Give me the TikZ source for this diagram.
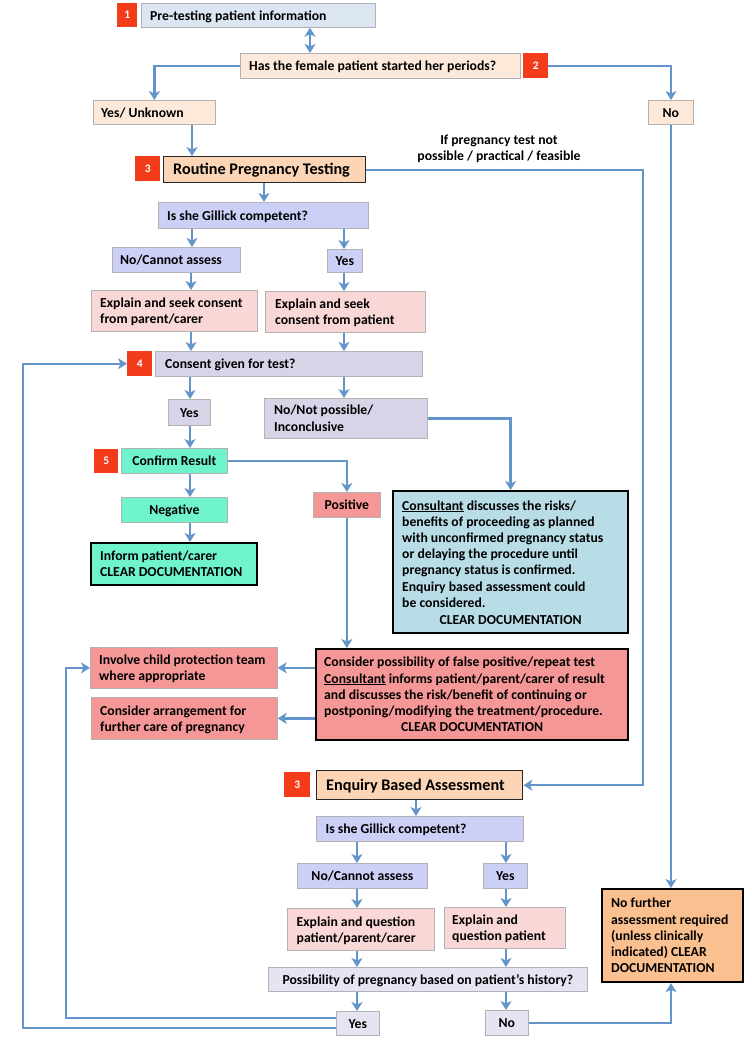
\documentclass[tikz,border=0pt]{standalone}
\usepackage{fontspec}
\setmainfont{Carlito}
\usetikzlibrary{arrows.meta}
\definecolor{cinfo}{HTML}{DCE6F2}
\definecolor{cpeach}{HTML}{FDE9D9}
\definecolor{cpeachB}{HTML}{FBD5B5}
\definecolor{clav}{HTML}{CCD0F6}
\definecolor{cpink}{HTML}{FAD7D7}
\definecolor{cgrey}{HTML}{D9D3E8}
\definecolor{caqua}{HTML}{6FF3CC}
\definecolor{csalmon}{HTML}{F59797}
\definecolor{cblue}{HTML}{B9DDE7}
\definecolor{corange}{HTML}{FAC090}
\definecolor{cred}{HTML}{F23C1A}
\definecolor{carrow}{HTML}{6495CA}
\definecolor{cposs}{HTML}{E6E4F3}
\tikzset{
  bx/.style={rectangle,draw=black!30,line width=0.7pt,inner sep=0pt},
  midb/.style={rectangle,draw=black!85,line width=1.4pt,inner sep=0pt},
  thk/.style={rectangle,draw=black,line width=2.2pt,inner sep=0pt},
  redsq/.style={rectangle,fill=cred,inner sep=0pt},
  txt/.style={inner sep=0pt,align=left,text=black,yshift=-1.5pt,font=\bfseries\fontsize{13.7}{16.2}\selectfont},
  bigtxt/.style={txt,font=\bfseries\fontsize{16.2}{18}\selectfont},
  numtxt/.style={inner sep=0pt,text=white,font=\bfseries\fontsize{11.5}{13}\selectfont},
  arr/.style={draw=carrow,line width=2.4pt,-{Stealth[length=9pt,width=11pt,inset=2.5pt]}},
  arrb/.style={draw=carrow,line width=2.4pt,{Stealth[length=9pt,width=11pt,inset=2.5pt]}-{Stealth[length=9pt,width=11pt,inset=2.5pt]}},
  ln/.style={draw=carrow,line width=2.4pt}
}
% name x1 y1 x2 y2 style pad text
\newcommand{\lbox}[8]{%
  \pgfmathsetmacro\mybw{#4-#2}\pgfmathsetmacro\mybh{#5-#3}%
  \node[#6,minimum width=\mybw pt,minimum height=\mybh pt,anchor=north west] (#1) at (#2,#3) {};%
  \node[txt,anchor=west] (#1t) at ([xshift=#7pt]#1.west) {\strut #8\strut};}
% name x1 y1 x2 y2 style text
\newcommand{\cbox}[7]{%
  \pgfmathsetmacro\mybw{#4-#2}\pgfmathsetmacro\mybh{#5-#3}%
  \node[#6,minimum width=\mybw pt,minimum height=\mybh pt,anchor=north west] (#1) at (#2,#3) {};%
  \node[txt,align=center] (#1t) at (#1.center) {\strut #7\strut};}
% name x1 y1 x2 y2 text
\newcommand{\nbox}[6]{%
  \pgfmathsetmacro\mybw{#4-#2}\pgfmathsetmacro\mybh{#5-#3}%
  \node[redsq,minimum width=\mybw pt,minimum height=\mybh pt,anchor=north west] (#1) at (#2,#3) {};%
  \node[numtxt] (#1t) at (#1.center) {#6};}
\begin{document}
\begin{tikzpicture}[x=1pt,y=-1pt]
\fill[white] (0,0) rectangle (752,1053);
\useasboundingbox (0,0) rectangle (752,1053);
% ---- boxes
\nbox{r1}{117}{3}{137}{27}{1}
\lbox{pre}{141}{3}{375}{27}{bx,fill=cinfo}{9}{Pre-testing patient information}
\lbox{per}{240}{53}{520}{78}{bx,fill=cpeach}{9}{Has the female patient started her periods?}
\nbox{r2}{523}{53}{548}{78}{2}
\lbox{yu}{93}{100}{215}{124}{bx,fill=cpeach}{8}{Yes/ Unknown}
\cbox{no1}{648}{100}{693}{124}{bx,fill=cpeach}{No}
\nbox{r3}{135}{156}{160}{181}{3}
\node[midb,fill=cpeachB,minimum width=202pt,minimum height=26pt,anchor=north west] (rpt) at (163,156) {};
\node[bigtxt,anchor=west] (rptt) at ([xshift=10pt]rpt.west) {\strut Routine Pregnancy Testing\strut};
\node[txt,align=center] (lbl) at (499,147) {If pregnancy test not\\possible / practical / feasible};
\lbox{g1}{158}{202}{368}{228}{bx,fill=clav}{9}{Is she Gillick competent?}
\lbox{nca1}{112}{247}{240}{272}{bx,fill=clav}{8}{No/Cannot assess}
\cbox{y1}{327}{249}{362}{272}{bx,fill=clav}{Yes}
\lbox{esp}{91}{290}{257}{331}{bx,fill=cpink}{9}{Explain and seek consent\\from parent/carer}
\lbox{esc}{265}{291}{425}{332}{bx,fill=cpink}{10}{Explain and seek\\consent from patient}
\nbox{r4}{127}{351}{152}{376}{4}
\lbox{cg}{155}{351}{422}{376}{bx,fill=cgrey}{10}{Consent given for test?}
\cbox{y2}{168}{399}{210}{425}{bx,fill=cgrey}{Yes}
\lbox{nnp}{264}{398}{427}{438}{bx,fill=cgrey}{10}{No/Not possible/\\Inconclusive}
\nbox{r5}{94}{449}{118}{473}{5}
\cbox{cr}{121}{448}{227}{473}{bx,fill=caqua}{Confirm Result}
\cbox{neg}{121}{497}{227}{522}{bx,fill=caqua}{Negative}
\lbox{inf}{90}{542}{256}{584}{thk,fill=caqua}{10}{Inform patient/carer\\CLEAR DOCUMENTATION}
\cbox{pos}{313}{492}{380}{517}{bx,fill=csalmon}{Positive}
% consultant box
\node[thk,fill=cblue,minimum width=235pt,minimum height=142pt,anchor=north west] (cons) at (392,490) {};
\node[txt,anchor=west] (const) at (402,554) {\strut\underline{Consultant} discusses the risks/\\benefits of proceeding as planned\\with unconfirmed pregnancy status\\or delaying the procedure until\\pregnancy status is confirmed.\\Enquiry based assessment could\\be considered.\strut};
\node[txt] (consc) at (cons.center |- 0,620) {\strut CLEAR DOCUMENTATION\strut};
% big red box
\node[thk,fill=csalmon,minimum width=312pt,minimum height=91pt,anchor=north west] (big) at (315,648) {};
\node[txt,anchor=west] (bigt) at (324,686.5) {\strut Consider possibility of false positive/repeat test\\\underline{Consultant} informs patient/parent/carer of result\\and discusses the risk/benefit of continuing or\\postponing/modifying the treatment/procedure.\strut};
\node[txt] (bigc) at (big.center |- 0,727) {\strut CLEAR DOCUMENTATION\strut};
\lbox{inv}{90}{647}{277}{688}{bx,fill=csalmon}{9}{Involve child protection team\\where appropriate}
\lbox{car}{91}{697}{277}{739}{bx,fill=csalmon}{9}{Consider arrangement for\\further care of pregnancy}
\nbox{r3b}{284}{772}{310}{797}{3}
\node[midb,fill=cpeachB,minimum width=206pt,minimum height=29pt,anchor=north west] (eba) at (316,770) {};
\node[bigtxt,anchor=west] (ebat) at ([xshift=10pt]eba.west) {\strut Enquiry Based Assessment\strut};
\lbox{g2}{316}{816}{523}{841}{bx,fill=clav}{9.5}{Is she Gillick competent?}
\cbox{nca2}{297}{863}{427}{888}{bx,fill=clav}{No/Cannot assess}
\cbox{y3}{483}{863}{527}{888}{bx,fill=clav}{Yes}
\lbox{eqp}{287}{908}{434}{950}{bx,fill=cpink}{9.5}{Explain and question\\patient/parent/carer}
\lbox{eq}{444}{907}{565}{948}{bx,fill=cpink}{8}{Explain and\\question patient}
\cbox{pos2}{268}{967}{587}{991}{bx,fill=cposs}{Possibility of pregnancy based on patient’s history?}
\cbox{y4}{336}{1011}{379}{1035}{bx,fill=cposs}{Yes}
\cbox{no2}{485}{1010}{528}{1035}{bx,fill=cposs}{No}
\lbox{nf}{601}{888}{742}{981}{thk,fill=corange}{10}{No further\\assessment required\\(unless clinically\\indicated) CLEAR\\DOCUMENTATION}
% ---- connectors
\draw[arrb] (310,0 |- pre.south) -- (310,0 |- per.north);
\draw[arr] (per.west) -| (yu.north);
\draw[arr] (r2.east) -| (671,0 |- no1.north);
\draw[arr] (192,0 |- yu.south) -- (192,0 |- rpt.north);
\draw[arr] (rpt.east) -- (643,0 |- rpt.east) -- (643,0 |- eba.east) -- (eba.east);
\draw[arr] (671,0 |- no1.south) -- (671,0 |- nf.north);
\draw[arr] (264,0 |- rpt.south) -- (264,0 |- g1.north);
\draw[arr] (192,0 |- g1.south) -- (192,0 |- nca1.north);
\draw[arr] (344,0 |- g1.south) -- (344,0 |- y1.north);
\draw[arr] (191,0 |- nca1.south) -- (191,0 |- esp.north);
\draw[arr] (344,0 |- y1.south) -- (344,0 |- esc.north);
\draw[arr] (191,0 |- esp.south) -- (191,0 |- cg.north);
\draw[arr] (344,0 |- esc.south) -- (344,0 |- cg.north);
\draw[arr] (190,0 |- cg.south) -- (190,0 |- y2.north);
\draw[arr] (344,0 |- cg.south) -- (344,0 |- nnp.north);
\draw[arr] (nnp.east) -| (cons.north);
\draw[arr] (190,0 |- y2.south) -- (190,0 |- cr.north);
\draw[arr] (cr.east) -| (pos.north);
\draw[arr] (190,0 |- cr.south) -- (190,0 |- neg.north);
\draw[arr] (190,0 |- neg.south) -- (190,0 |- inf.north);
\draw[arr] (pos.south) -- (pos.south |- big.north);
\draw[arr] (big.west |- inv.east) -- (inv.east);
\draw[arr] (big.west |- car.east) -- (car.east);
\draw[arr] (416,0 |- eba.south) -- (416,0 |- g2.north);
\draw[arr] (357,0 |- g2.south) -- (357,0 |- nca2.north);
\draw[arr] (506,0 |- g2.south) -- (506,0 |- y3.north);
\draw[arr] (357,0 |- nca2.south) -- (357,0 |- eqp.north);
\draw[arr] (506,0 |- y3.south) -- (506,0 |- eq.north);
\draw[arr] (357,0 |- eqp.south) -- (357,0 |- pos2.north);
\draw[arr] (506,0 |- eq.south) -- (506,0 |- pos2.north);
\draw[arr] (357,0 |- pos2.south) -- (357,0 |- y4.north);
\draw[arr] (506,0 |- pos2.south) -- (506,0 |- no2.north);
\draw[arr] (no2.east) -| (671,0 |- nf.south);
\draw[arr] (y4.west |- 0,1018) -- (66,1018) -- (66,0 |- inv.west) -- (inv.west);
\draw[arr] (y4.west |- 0,1028) -- (23,1028) -- (23,0 |- r4.west) -- (r4.west);
\end{tikzpicture}
\end{document}
